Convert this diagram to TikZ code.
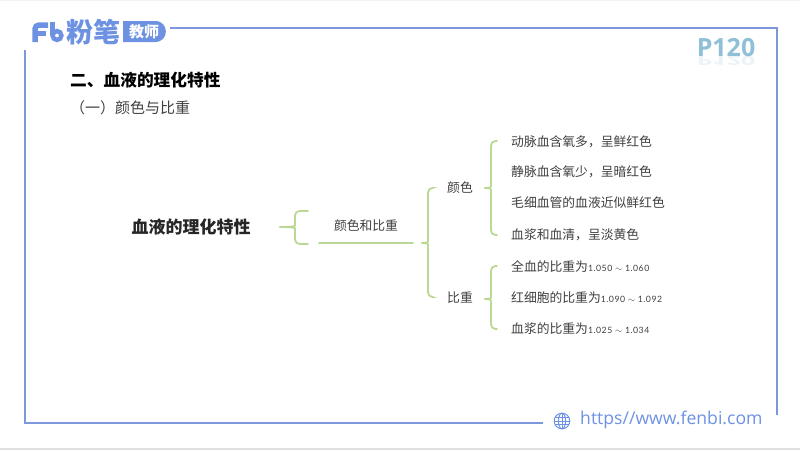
\documentclass[tikz,border=0pt]{standalone}
\usepackage{fontspec}
\setmainfont{Noto Sans CJK SC}
\newfontfamily\numfont[LetterSpace=6]{Lato}
\newfontfamily\urlfont{Open Sans}
\usetikzlibrary{positioning}
\definecolor{framecol}{HTML}{7C97DC}
\definecolor{logocol}{HTML}{6E92E2}
\definecolor{bracecol}{HTML}{BBD995}
\definecolor{textcol}{HTML}{404040}
\definecolor{pagecol}{HTML}{8FC0D8}
\tikzset{
    bracepath/.style={draw=bracecol,line width=1.8pt,line cap=round,rounded corners=4.5pt},
    leaf/.style={anchor=west,inner sep=0pt,text=textcol,font=\fontsize{12.8}{12.8}\selectfont},
    frameline/.style={draw=framecol,line width=1.5pt}
}
\newcommand{\curly}[6]{% tip x, tip y, spine x, top y, bottom y, end x
    \draw[bracepath] (#1,#2) .. controls (#3-1,#2) and (#3,#2-1) .. (#3,#2-6)--(#3,#4)--(#6,#4);
    \draw[bracepath] (#1,#2) .. controls (#3-1,#2) and (#3,#2+1) .. (#3,#2+6)--(#3,#5)--(#6,#5);
}
\newcommand{\numtext}[1]{{\numfont\fontsize{8.7}{8.7}\selectfont #1}}
\begin{document}
\begin{tikzpicture}[x=1pt,y=-1pt]
    \useasboundingbox (0,0) rectangle (800,450);
    \fill[white] (0,0) rectangle (800,450);
    \fill[black!12] (0,448) rectangle (800,450);
    \fill[black!5] (0,0) rectangle (800,1);
    % frame
    \draw[frameline] (170,28)--(777,28)--(777,415);
    \draw[frameline] (25,50)--(25,423)--(543,423);
    % logo
    \draw[logocol,line width=5.5pt,rounded corners=4pt] (35,42)--(35,25)--(48,25);
    \draw[logocol,line width=5pt] (35,33.5)--(46,33.5);
    \draw[logocol,line width=4.5pt] (52.5,22)--(52.5,35);
    \draw[logocol,line width=4.5pt] (57,35.5) circle [radius=4.4];
    \node (brand) at (93.5,32) [inner sep=0pt,text=logocol,font=\bfseries\fontsize{27}{27}\selectfont] {粉笔};
    \fill[logocol] (123,21)--(155,21) .. controls (169.5,21) and (169.5,42) .. (155,42)--(123,42)--cycle;
    \node (badge) at (144,31.5) [inner sep=0pt,text=white,font=\bfseries\fontsize{15}{15}\selectfont] {教师};
    % page mark
    \node (pagemark) at (726,48) [inner sep=0pt,text=pagecol,font=\urlfont\bfseries\fontsize{25}{25}\selectfont] {P120};
    \node (pageshadow) at (726,61) [inner sep=0pt,yscale=-0.5,opacity=0.18,text=pagecol,font=\urlfont\bfseries\fontsize{25}{25}\selectfont] {P120};
    % headings
    \node (title) at (70,80) [anchor=west,inner sep=0pt,font=\bfseries\fontsize{16.7}{16.7}\selectfont] {二、血液的理化特性};
    \node (subtitle) at (70,108) [anchor=west,inner sep=0pt,text=textcol,font=\fontsize{15}{15}\selectfont] {（一）颜色与比重};
    % tree
    \node (root) at (191,227) [inner sep=0pt,text=black!85,font=\bfseries\fontsize{17}{17}\selectfont] {血液的理化特性};
    \curly{280}{227}{295}{211}{244}{308}
    \node (colorweight) at (366,226) [inner sep=0pt,text=textcol,font=\fontsize{12.8}{12.8}\selectfont] {颜色和比重};
    \coordinate (ulstart) at (319,243);
    \coordinate (ulend) at (413,243);
    \draw[bracepath] (ulstart)--(ulend);
    \curly{422}{243}{428}{188}{297}{432}
    \node (color) at (447,188) [leaf] {颜色};
    \node (weight) at (447,298) [leaf] {比重};
    \curly{485}{188}{491}{141}{235}{497}
    \node (leafa) at (511,142) [leaf] {动脉血含氧多，呈鲜红色};
    \node (leafb) at (511,172) [leaf] {静脉血含氧少，呈暗红色};
    \node (leafc) at (511,203) [leaf] {毛细血管的血液近似鲜红色};
    \node (leafd) at (511,235) [leaf] {血浆和血清，呈淡黄色};
    \curly{485}{299}{491}{266}{329}{497}
    \node (leafe) at (511,267) [leaf] {全血的比重为\numtext{1.050 $\sim$ 1.060}};
    \node (leaff) at (511,298) [leaf] {红细胞的比重为\numtext{1.090 $\sim$ 1.092}};
    \node (leafg) at (511,329) [leaf] {血浆的比重为\numtext{1.025 $\sim$ 1.034}};
    % footer
    \begin{scope}[shift={(562,421)},draw=logocol,line width=1pt]
        \draw (0,0) circle [radius=7.8];
        \draw (0,0) ellipse [x radius=3.6,y radius=7.8];
        \draw (-7.8,0)--(7.8,0);
        \draw (-6.9,-3.4)--(6.9,-3.4);
        \draw (-6.9,3.4)--(6.9,3.4);
        \draw (0,-7.8)--(0,7.8);
    \end{scope}
    \node (url) at (580,420) [anchor=west,inner sep=0pt,text=logocol,font=\urlfont\fontsize{17.6}{17.6}\selectfont] {https//www.fenbi.com};
\end{tikzpicture}
\end{document}
